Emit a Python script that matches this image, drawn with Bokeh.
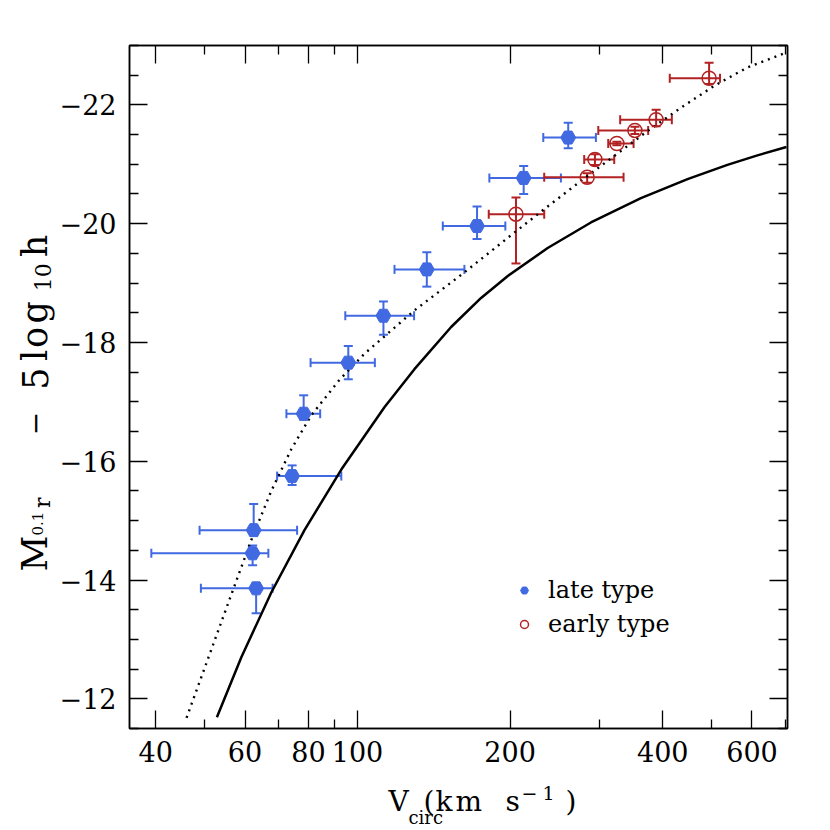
import math
from bokeh.plotting import figure
from bokeh.layouts import row, column
from bokeh.models import (ColumnDataSource, Whisker, TeeHead, FixedTicker, LogAxis,
                          LinearAxis, Range1d, Label, Legend, LegendItem, CustomJSTickFormatter)
from bokeh.embed import file_html
from bokeh.resources import INLINE

# ---------------- data ----------------
late_v = [62.4, 62.1, 63.1, 74.3, 78.3, 95.9, 112.5, 137.0, 172.1, 212.7, 260.4]
late_m = [-14.84, -14.45, -13.86, -15.75, -16.80, -17.66, -18.45, -19.23, -19.96, -20.77, -21.45]
late_v_lo = [48.8, 39.2, 49.1, 69.4, 72.4, 80.8, 94.6, 118.3, 147.3, 182.0, 232.5]
late_v_hi = [76.0, 66.7, 68.0, 92.9, 84.4, 108.2, 129.3, 162.5, 195.7, 251.9, 295.3]
late_m_bright = [-15.28, -14.58, -13.95, -15.93, -17.11, -17.94, -18.69, -19.52, -20.29, -20.97, -21.70]
late_m_faint = [-14.75, -14.25, -13.44, -15.60, -16.70, -17.38, -18.13, -18.94, -19.74, -20.50, -21.27]

early_v = [205.4, 283.8, 294.0, 324.8, 352.5, 388.2, 493.8]
early_m = [-20.16, -20.78, -21.08, -21.35, -21.57, -21.75, -22.45]
early_v_lo = [181.5, 233.5, 280.0, 312.3, 298.5, 329.7, 413.0]
early_v_hi = [233.5, 334.8, 320.9, 350.4, 374.4, 416.9, 518.9]
early_m_bright = [-20.44, -20.85, -21.17, -21.38, -21.63, -21.92, -22.71]
early_m_faint = [-19.33, -20.69, -20.99, -21.32, -21.51, -21.64, -22.35]

solid_v = [52.8, 59.0, 67.6, 78.6, 92.9, 113.0, 129.5, 153.0, 175.3, 197.9, 237.2,
           288.7, 362.3, 447.7, 536.6, 615.0, 701.5]
solid_m = [-11.69, -12.70, -13.79, -14.84, -15.86, -16.91, -17.55, -18.26, -18.75, -19.12,
           -19.59, -20.02, -20.43, -20.75, -20.99, -21.15, -21.29]

dot_v = [46.0, 56.4, 61.7, 67.6, 74.0, 81.0, 92.1, 103.2, 129.5, 162.5, 203.9,
         237.2, 275.9, 320.9, 373.4, 434.2, 505.0, 587.5, 701.4]
dot_m = [-11.68, -13.76, -14.67, -15.50, -16.20, -16.77, -17.37, -17.81, -18.54, -19.18,
         -19.85, -20.29, -20.72, -21.14, -21.56, -21.95, -22.32, -22.63, -22.88]

x_major = [40, 60, 80, 100, 200, 400, 600]
x_minor = [50, 70, 90, 300, 500, 700]
x_labels = ["40", "60", "80", "100", "200", "400", "600"]
y_major = [-12, -14, -16, -18, -20, -22]
y_minor = [-11.5, -12.5, -13, -13.5, -14.5, -15, -15.5, -16.5, -17, -17.5, -18.5, -19,
           -19.5, -20.5, -21, -21.5, -22.5, -23]
y_labels = ["\u221212", "\u221214", "\u221216", "\u221218", "\u221220", "\u221222"]

X0, X1 = 35.5, 705.0
Y0, Y1 = -11.5, -23.0

BLUE = "#4169E1"
RED = "#B22222"
FONT = "DejaVu Serif"

# ---------------- layout sizes (pixels) ----------------
YT_W = 56            # strip holding the vertical axis title
MAIN_W, MAIN_H = 758, 772
XT_H = 58            # strip holding the horizontal axis title
TOTAL_W = YT_W + MAIN_W

# ---------------- main figure ----------------
p = figure(width=MAIN_W, height=MAIN_H, x_axis_type="log",
           x_range=Range1d(X0, X1), y_range=Range1d(Y0, Y1),
           output_backend="svg", toolbar_location=None,
           min_border_left=128 - YT_W, min_border_right=27, min_border_top=45,
           min_border_bottom=44)
p.grid.visible = False
p.outline_line_color = "black"
p.outline_line_width = 1.5
p.background_fill_color = "white"

xt = FixedTicker(ticks=x_major, minor_ticks=x_minor)
yt = FixedTicker(ticks=y_major, minor_ticks=y_minor)


def style_axis(ax, show_labels, standoff):
    ax.axis_line_color = "black"
    ax.axis_line_width = 1.5
    ax.major_tick_in = 18
    ax.major_tick_out = 0
    ax.minor_tick_in = 9
    ax.minor_tick_out = 0
    ax.major_tick_line_width = 1.3
    ax.minor_tick_line_width = 1.3
    ax.major_label_text_font = FONT
    ax.major_label_text_font_size = "27px"
    ax.major_label_text_color = "black"
    ax.major_label_standoff = standoff
    if not show_labels:
        ax.major_label_standoff = 0
        ax.formatter = CustomJSTickFormatter(code="return ''")


p.xaxis.ticker = xt
p.yaxis.ticker = yt
style_axis(p.xaxis[0], True, 12)
style_axis(p.yaxis[0], True, 13)
p.xaxis.major_label_overrides = {v: s for v, s in zip(x_major, x_labels)}
p.yaxis.major_label_overrides = {v: s for v, s in zip(y_major, y_labels)}

top = LogAxis(ticker=xt)
style_axis(top, False, 0)
p.add_layout(top, "above")
right = LinearAxis(ticker=yt)
style_axis(right, False, 0)
p.add_layout(right, "right")

# ---------------- curves ----------------
p.line(solid_v, solid_m, line_color="black", line_width=2.5)
p.line(dot_v, dot_m, line_color="black", line_width=2.4, line_dash="2 5")

# ---------------- error bars and points ----------------
late_src = ColumnDataSource(dict(v=late_v, m=late_m, vlo=late_v_lo, vhi=late_v_hi,
                                 mb=late_m_bright, mf=late_m_faint))
early_src = ColumnDataSource(dict(v=early_v, m=early_m, vlo=early_v_lo, vhi=early_v_hi,
                                  mb=early_m_bright, mf=early_m_faint))

for src, col in ((late_src, BLUE), (early_src, RED)):
    p.add_layout(Whisker(source=src, base="m", lower="vlo", upper="vhi", dimension="width",
                         line_color=col, line_width=2,
                         lower_head=TeeHead(size=9, line_color=col, line_width=2),
                         upper_head=TeeHead(size=9, line_color=col, line_width=2)))
    p.add_layout(Whisker(source=src, base="v", lower="mf", upper="mb", dimension="height",
                         line_color=col, line_width=2,
                         lower_head=TeeHead(size=9, line_color=col, line_width=2),
                         upper_head=TeeHead(size=9, line_color=col, line_width=2)))

r_late = p.scatter("v", "m", source=late_src, marker="hex", size=15,
                   fill_color=BLUE, line_color=BLUE)
r_early = p.scatter("v", "m", source=early_src, marker="circle", size=14,
                    fill_color=None, line_color=RED, line_width=1.5)

legend = Legend(items=[LegendItem(label="late type", renderers=[r_late]),
                       LegendItem(label="early type", renderers=[r_early])],
                location=(385, 90), orientation="vertical",
                border_line_alpha=0, background_fill_alpha=0,
                label_text_font=FONT, label_text_font_size="24px",
                label_text_color="black",
                glyph_width=20, glyph_height=20, label_height=20,
                spacing=6, padding=0, margin=0, label_standoff=14)
p.add_layout(legend)


# ---------------- title strips (their own frames, coordinates = pixels) ----------------
def strip(w, h, x_left, y_top):
    f = figure(width=w, height=h, x_range=Range1d(x_left, x_left + w),
               y_range=Range1d(y_top + h, y_top),
               x_axis_type=None, y_axis_type=None, output_backend="svg",
               toolbar_location=None, min_border=0)
    f.outline_line_color = None
    f.grid.visible = False
    return f


ytf = strip(YT_W, MAIN_H, 0, 0)
xtf = strip(TOTAL_W, XT_H, 0, MAIN_H)


def lab(f, text, px, py, size, angle=0.0, align="left"):
    f.add_layout(Label(text=text, x=px, y=py, text_font=FONT, text_font_size=size,
                       text_color="black", text_baseline="alphabetic",
                       text_align=align, angle=angle))


# x title: V_circ (km s^-1)
lab(xtf, "V", 388, 801, "28px")
lab(xtf, "circ", 408, 817, "18px")
lab(xtf, "(", 423, 801, "28px")
lab(xtf, "k", 435, 801, "28px")
lab(xtf, "m", 455, 801, "28px")
lab(xtf, "s", 505, 801, "28px")
lab(xtf, "\u2212", 521, 792, "19px")
lab(xtf, "1", 542, 792, "19px")
lab(xtf, ")", 565, 801, "28px")

# y title: M_{0.1 r} - 5 log_10 h, read bottom to top; each piece is anchored at its upper end
A = math.pi / 2
lab(ytf, "M", 34, 554, "35px", A, "right")
lab(ytf, "0.1", 37, 527, "15px", A, "right")
lab(ytf, "r", 42, 511, "22px", A, "right")
lab(ytf, "\u2212", 34, 414, "28px", A, "right")
lab(ytf, "5", 34, 364, "35px", A, "right")
lab(ytf, "l", 34, 344, "35px", A, "right")
lab(ytf, "o", 34, 318, "35px", A, "right")
lab(ytf, "g", 34, 289, "35px", A, "right")
lab(ytf, "10", 42, 246, "22px", A, "right")
lab(ytf, "h", 34, 214, "35px", A, "right")

page = column(row(ytf, p, spacing=0), xtf, spacing=0)
open("out.html", "w").write(file_html(page, INLINE))
